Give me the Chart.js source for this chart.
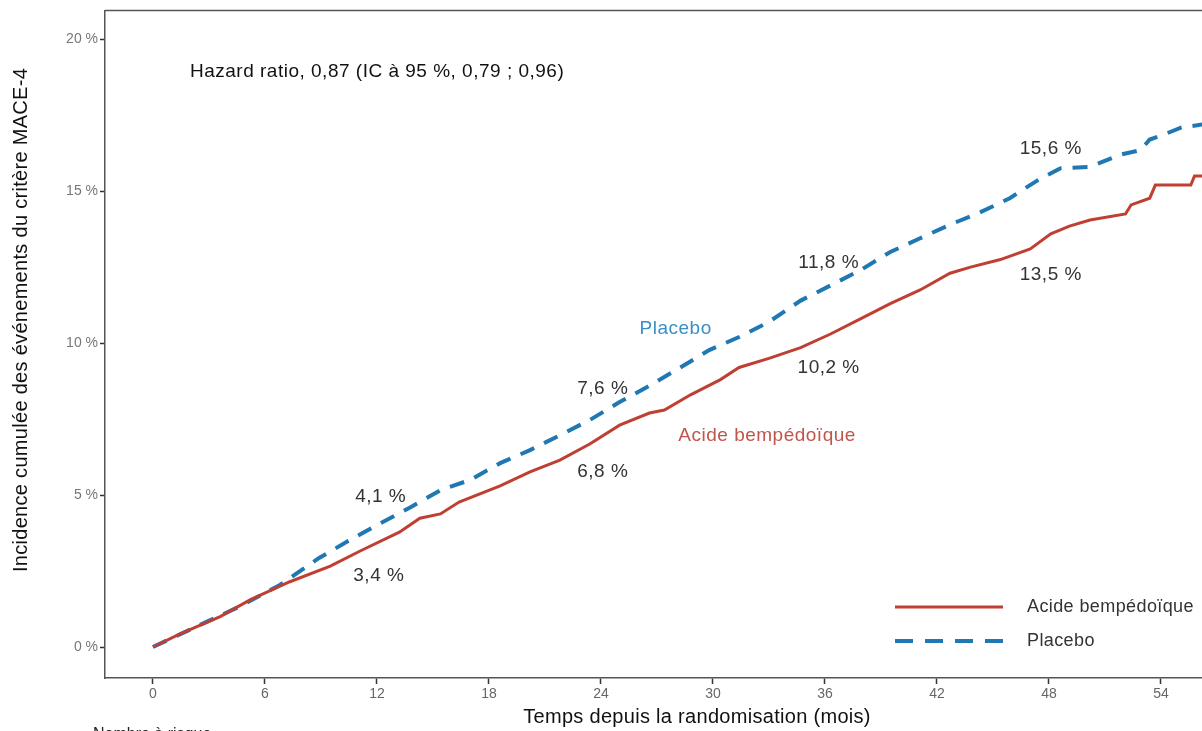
<!DOCTYPE html>
<html>
<head>
<meta charset="utf-8">
<script src="https://cdn.jsdelivr.net/npm/chart.js@4.4.1/dist/chart.umd.min.js"></script>
<style>
html,body{margin:0;padding:0;background:#fff;}
#wrap{width:1202px;height:731px;position:relative;overflow:hidden;}
</style>
</head>
<body>
<div id="wrap"><canvas id="c"></canvas></div>
<script>
// ---- Data ----
const xTicks = [0, 6, 12, 18, 24, 30, 36, 42, 48, 54];
const yTicks = [0, 5, 10, 15, 20];

const acideMonths = [0, 1.45, 3.6, 5.2, 7.3, 9.5, 11.1, 13.2, 14.3, 15.4, 16.4, 18.6, 20.2, 21.8, 23.4, 25.0, 26.6, 27.4, 28.8, 30.4, 31.4, 33.0, 34.7, 36.3, 37.9, 39.5, 41.1, 42.7, 43.8, 45.4, 47.0, 48.1, 49.1, 50.2, 52.1, 52.4, 53.4, 53.7, 55.6, 55.8, 56.3];
const acidePct    = [0, 0.43, 1.0, 1.55, 2.14, 2.66, 3.16, 3.78, 4.24, 4.38, 4.77, 5.3, 5.76, 6.15, 6.68, 7.3, 7.7, 7.8, 8.3, 8.8, 9.2, 9.5, 9.85, 10.3, 10.8, 11.3, 11.75, 12.3, 12.5, 12.75, 13.1, 13.6, 13.85, 14.05, 14.25, 14.55, 14.77, 15.2, 15.2, 15.5, 15.5];

const placeboMonths = [0, 2.5, 4.7, 6.8, 8.9, 10.55, 12.2, 13.8, 15.4, 17.0, 18.6, 20.2, 21.8, 23.4, 25.0, 26.6, 28.2, 29.8, 31.4, 33.0, 34.7, 36.3, 37.9, 39.5, 41.1, 42.7, 44.3, 45.9, 47.5, 48.6, 50.2, 51.8, 52.9, 53.4, 54.3, 55.1, 56.3];
const placeboPct    = [0, 0.72, 1.35, 2.04, 2.93, 3.52, 4.08, 4.6, 5.16, 5.5, 6.05, 6.48, 6.97, 7.47, 8.06, 8.6, 9.18, 9.77, 10.2, 10.7, 11.4, 11.9, 12.4, 13.0, 13.45, 13.9, 14.3, 14.77, 15.4, 15.75, 15.8, 16.2, 16.35, 16.7, 16.9, 17.1, 17.2];

// Value labels on the curves: [month, pct, text]
const valueLabels = [
  [12.2, 4.93, '4,1 %'],
  [12.1, 2.34, '3,4 %'],
  [24.1, 8.49, '7,6 %'],
  [24.1, 5.76, '6,8 %'],
  [36.2, 12.66, '11,8 %'],
  [36.2, 9.18, '10,2 %'],
  [48.1, 16.41, '15,6 %'],
  [48.1, 12.24, '13,5 %']
];
const seriesLabels = [
  [28.0, 10.46, 'Placebo', '#3a8fc4'],
  [32.9, 6.94, 'Acide bempédoïque', '#c0554c']
];
const hazardText = 'Hazard ratio, 0,87 (IC à 95 %, 0,79 ; 0,96)';

const RED = '#bf3f33';
const BLUE = '#1f78b4';
const FONT = '"Liberation Sans", Arial, Helvetica, sans-serif';

function pts(xs, ys){ return xs.map((x,i)=>({x:x, y:ys[i]})); }

const overlay = {
  id: 'overlay',
  afterDraw(chart){
    const ctx = chart.ctx, ca = chart.chartArea;
    const xs = chart.scales.x, ys = chart.scales.y;
    ctx.save();
    // frame top border
    ctx.strokeStyle = '#555';
    ctx.lineWidth = 1.5;
    ctx.beginPath();
    ctx.moveTo(ca.left, ca.top); ctx.lineTo(ca.right + 2, ca.top);
    ctx.stroke();

    ctx.textBaseline = 'middle';
    // hazard ratio
    ctx.fillStyle = '#111';
    ctx.font = '19px ' + FONT;
    ctx.letterSpacing = '0.5px';
    ctx.textAlign = 'left';
    ctx.fillText(hazardText, 190, 72);

    // value labels
    ctx.fillStyle = '#333';
    ctx.textAlign = 'center';
    valueLabels.forEach(([m,p,t])=>{
      ctx.fillText(t, xs.getPixelForValue(m), ys.getPixelForValue(p));
    });
    seriesLabels.forEach(([m,p,t,c])=>{
      ctx.fillStyle = c;
      ctx.fillText(t, xs.getPixelForValue(m), ys.getPixelForValue(p));
    });

    // legend inside plot
    ctx.lineWidth = 3;
    ctx.strokeStyle = RED;
    ctx.setLineDash([]);
    ctx.beginPath(); ctx.moveTo(895, 607); ctx.lineTo(1003, 607); ctx.stroke();
    ctx.strokeStyle = BLUE;
    ctx.lineWidth = 4;
    ctx.setLineDash([18, 12]);
    ctx.beginPath(); ctx.moveTo(895, 641); ctx.lineTo(1003, 641); ctx.stroke();
    ctx.setLineDash([]);
    ctx.fillStyle = '#333';
    ctx.textAlign = 'left';
    ctx.font = '18px ' + FONT;
    ctx.letterSpacing = '0.4px';
    ctx.fillText('Acide bempédoïque', 1027, 607);
    ctx.fillText('Placebo', 1027, 641);

    // axis titles
    ctx.fillStyle = '#111';
    ctx.font = '20px ' + FONT;
    ctx.letterSpacing = '0.3px';
    ctx.textAlign = 'center';
    ctx.fillText('Temps depuis la randomisation (mois)', 697, 717);
    ctx.save();
    ctx.translate(21, 320);
    ctx.rotate(-Math.PI/2);
    ctx.fillText('Incidence cumulée des événements du critère MACE-4', 0, 0);
    ctx.restore();

    // partially visible text at the very bottom
    ctx.font = '16px ' + FONT;
    ctx.letterSpacing = '0px';
    ctx.textAlign = 'left';
    ctx.textBaseline = 'alphabetic';
    ctx.fillStyle = '#222';
    ctx.fillText('Nombre à risque', 93, 739);
    ctx.restore();
  }
};

new Chart(document.getElementById('c'), {
  type: 'line',
  data: {
    datasets: [
      { label: 'Acide bempédoïque', data: pts(acideMonths, acidePct), borderColor: RED, borderWidth: 3, pointRadius: 0, tension: 0, fill: false },
      { label: 'Placebo', data: pts(placeboMonths, placeboPct), borderColor: BLUE, borderWidth: 4, borderDash: [15, 11], pointRadius: 0, tension: 0, fill: false }
    ]
  },
  options: {
    responsive: true,
    maintainAspectRatio: false,
    animation: false,
    layout: { padding: { top: 10, right: 0, left: 0, bottom: 0 } },
    plugins: { legend: { display: false }, tooltip: { enabled: false } },
    scales: {
      x: {
        type: 'linear', min: -2.57, max: 56.2,
        afterBuildTicks: s => { s.ticks = xTicks.map(v=>({value:v})); },
        afterFit: s => { s.height = 53; },
        grid: { display: true, drawOnChartArea: false, drawTicks: true, tickLength: 6, tickColor: '#333', tickWidth: 1.5 },
        border: { display: true, color: '#555', width: 1.5 },
        ticks: { color: '#666', font: { family: FONT, size: 14 }, padding: 2, maxRotation: 0, autoSkip: false }
      },
      y: {
        type: 'linear', min: -1.02, max: 20.95,
        afterBuildTicks: s => { s.ticks = yTicks.map(v=>({value:v})); },
        afterFit: s => { s.width = 105; },
        grid: { display: true, drawOnChartArea: false, drawTicks: true, tickLength: 5, tickColor: '#333', tickWidth: 1.5 },
        border: { display: true, color: '#555', width: 1.5 },
        ticks: { color: '#777', font: { family: FONT, size: 14 }, padding: 2, callback: v => v + ' %' }
      }
    }
  },
  plugins: [overlay]
});
</script>
</body>
</html>
